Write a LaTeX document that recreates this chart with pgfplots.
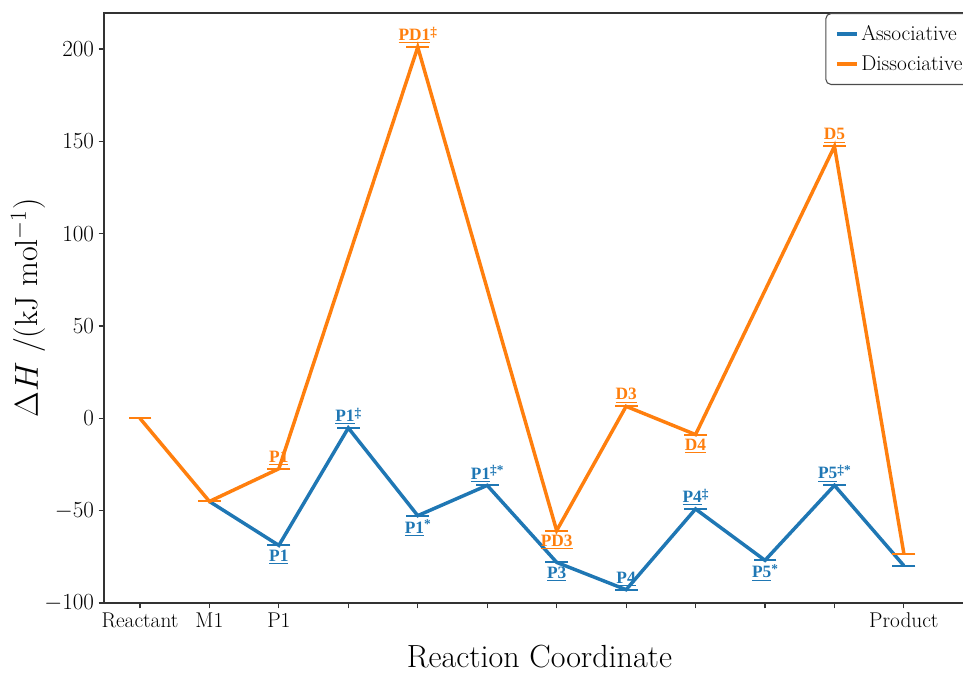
\documentclass[border=0pt]{standalone}
\usepackage{pgfplots}
\pgfplotsset{compat=1.18}
\usepackage{fontspec}
\newfontfamily\lblfont{Liberation Serif}
\definecolor{tabblue}{HTML}{1F77B4}
\definecolor{taborange}{HTML}{FF7F0E}
\newcommand{\supmark}[1]{\raisebox{0.55ex}{\fontsize{10}{10}\selectfont #1}}
\tikzset{
  lab/.style={font=\lblfont\bfseries\fontsize{13}{15}\selectfont, inner sep=1pt},
  up/.style={lab, anchor=south, yshift=1.5pt},
  dn/.style={lab, anchor=north, yshift=-2pt},
}
\begin{document}
\begin{tikzpicture}
\begin{axis}[
  scale only axis,
  width=653.25pt, height=442.5pt,
  xmin=-0.518, xmax=12.024, ymin=-100, ymax=219.5,
  xtick={0,...,11},
  xticklabels={Reactant,M1,P1,,,,,,,,,Product},
  ytick={-100,-50,0,50,100,150,200},
  tick align=outside, tick pos=left,
  major tick length=4pt,
  axis line style={line width=0.8pt, black!80},
  every tick/.style={black!80, line width=0.8pt},
  tick label style={font=\fontsize{16}{19}\selectfont},
  label style={font=\fontsize{24}{29}\selectfont},
  xlabel={Reaction Coordinate},
  xlabel style={yshift=-6pt},
  ylabel={$\Delta H$ /(kJ mol$^{-1}$)},
  ylabel style={yshift=-8pt},
  legend style={at={(1,1)}, anchor=north east, draw=black!70, line width=0.8pt, rounded corners=4pt, font=\fontsize{16}{19}\selectfont, row sep=6pt, inner xsep=7pt, inner ysep=7pt},
  legend cell align=left,
  legend image code/.code={\draw[line width=2.6pt] (0pt,0pt) -- (15pt,0pt);},
  clip=false,
]
\addplot[tabblue, line width=2.6pt, mark=-, mark size=8.6pt, mark options={line width=1.5pt}]
  coordinates {(1,-45)(2,-68.8)(3,-5.2)(4,-52.7)(5,-36.3)(6,-78)(7,-92.8)(8,-49.1)(9,-76.9)(10,-36.3)(11,-79.8)};
\addlegendentry{Associative}
\addplot[taborange, line width=2.6pt, mark=-, mark size=8.6pt, mark options={line width=1.5pt}]
  coordinates {(0,0)(1,-45)(2,-27.3)(4,201)(6,-60.8)(7,6.5)(8,-8.8)(10,147.3)(11,-73.3)};
\addlegendentry{Dissociative}

\node[tabblue, dn] at (axis cs:2,-68.8) {\underline{P1}};
\node[tabblue, up] at (axis cs:3,-5.2) {\underline{P1}\supmark{‡}};
\node[tabblue, dn] at (axis cs:4,-52.7) {\underline{P1}\supmark{*}};
\node[tabblue, up] at (axis cs:5,-36.3) {\underline{P1}\supmark{‡*}};
\node[tabblue, dn] at (axis cs:6,-78) {\underline{P3}};
\node[tabblue, up] at (axis cs:7,-92.8) {\underline{P4}};
\node[tabblue, up] at (axis cs:8,-49.1) {\underline{P4}\supmark{‡}};
\node[tabblue, dn] at (axis cs:9,-76.9) {\underline{P5}\supmark{*}};
\node[tabblue, up] at (axis cs:10,-36.3) {\underline{P5}\supmark{‡*}};

\node[taborange, up] at (axis cs:2,-27.3) {\underline{P1}};
\node[taborange, up] at (axis cs:4,201) {\underline{PD1}\supmark{‡}};
\node[taborange, dn] at (axis cs:6,-60.8) {\underline{PD3}};
\node[taborange, up] at (axis cs:7,6.5) {\underline{D3}};
\node[taborange, dn] at (axis cs:8,-8.8) {\underline{D4}};
\node[taborange, up] at (axis cs:10,147.3) {\underline{D5}};
\end{axis}
\pgfresetboundingbox
\path ([shift={(-78pt,-53.25pt)}]current axis.south west) rectangle ([shift={(644.25pt,452.25pt)}]current axis.south west);
\end{tikzpicture}
\end{document}
